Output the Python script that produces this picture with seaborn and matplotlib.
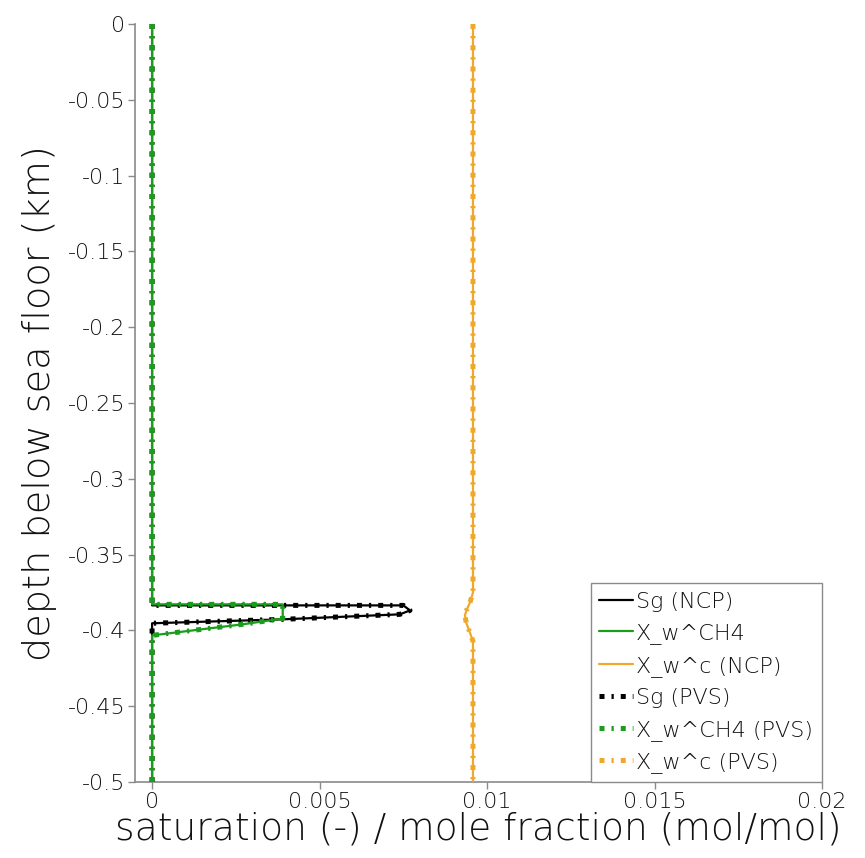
import matplotlib
matplotlib.use("Agg")
import matplotlib.pyplot as plt
import seaborn as sns
import pandas as pd

# Depth profiles (km below sea floor, negative downward) and values
sg_depth = [0.0, -0.3835, -0.3835, -0.3868, -0.3894, -0.3927, -0.3953, -0.5]
sg_value = [0.0, 0.0, 0.0075, 0.0077, 0.0074, 0.0039, 0.0, 0.0]

ch4_depth = [0.0, -0.3828, -0.3828, -0.3922, -0.3960, -0.3995, -0.4033, -0.5]
ch4_value = [0.0, 0.0, 0.0039, 0.0039, 0.0027, 0.0014, 0.0, 0.0]

xc_depth = [0.0, -0.375, -0.381, -0.386, -0.390, -0.395, -0.401, -0.407, -0.5]
xc_value = [0.00958, 0.00958, 0.00950, 0.00940, 0.00934, 0.00938, 0.00948, 0.00958, 0.00958]

series_names = ["Sg (NCP)", "X_w^CH4", "X_w^c (NCP)",
                "Sg (PVS)", "X_w^CH4 (PVS)", "X_w^c (PVS)"]

x_ticks = [0, 0.005, 0.01, 0.015, 0.02]
x_tick_labels = ["0", "0.005", "0.01", "0.015", "0.02"]
y_ticks = [0, -0.05, -0.1, -0.15, -0.2, -0.25, -0.3, -0.35, -0.4, -0.45, -0.5]
y_tick_labels = ["0", "-0.05", "-0.1", "-0.15", "-0.2", "-0.25", "-0.3",
                 "-0.35", "-0.4", "-0.45", "-0.5"]

BLACK = "#000000"
GREEN = "#1c9c1c"
ORANGE = "#f0a82c"
SPINE = "#8a8a8a"
TEXT = "#111111"

sns.set_theme(style="white")
plt.rcParams["font.family"] = ["DejaVu Sans"]

fig = plt.figure(figsize=(8.65, 8.58), dpi=100)
ax = fig.add_axes([135 / 865, 1 - 782 / 858, (822 - 135) / 865, (782 - 24) / 858])

profiles = [
    (sg_value, sg_depth, BLACK, 2),
    (ch4_value, ch4_depth, GREEN, 4),
    (xc_value, xc_depth, ORANGE, 4),
]

# Solid NCP curves
for (xv, yv, col, z), name in zip(profiles, series_names[:3]):
    df = pd.DataFrame({"x": xv, "y": yv})
    sns.lineplot(data=df, x="x", y="y", sort=False, estimator=None, ax=ax,
                 color=col, lw=1.6, label=name, zorder=z)

# Dotted PVS curves on top
pvs_dash = (0, (1.0, 1.4, 0.45, 1.4))
for (xv, yv, col, z), name in zip(profiles, series_names[3:]):
    df = pd.DataFrame({"x": xv, "y": yv})
    sns.lineplot(data=df, x="x", y="y", sort=False, estimator=None, ax=ax,
                 color=col, lw=3.6, linestyle=pvs_dash, label=name,
                 dash_capstyle="butt", zorder=z + 1)

ax.set_xlim(-0.00051, 0.02)
ax.set_ylim(-0.5, 0.0)
ax.set_xticks(x_ticks)
ax.set_xticklabels(x_tick_labels)
ax.set_yticks(y_ticks)
ax.set_yticklabels(y_tick_labels)

for side in ["top", "right"]:
    ax.spines[side].set_visible(False)
for side in ["left", "bottom"]:
    ax.spines[side].set_color(SPINE)
    ax.spines[side].set_linewidth(1.2)

ax.tick_params(axis="both", which="major", direction="out", length=5,
               width=1.0, color=SPINE, labelsize=16, labelcolor=TEXT,
               left=True, bottom=True, pad=2)
for lbl in ax.get_xticklabels() + ax.get_yticklabels():
    lbl.set_fontweight("light")

ax.set_xlabel("saturation (-) / mole fraction (mol/mol)", fontsize=27,
              color=TEXT, labelpad=0, fontweight="light")
ax.set_ylabel("depth below sea floor (km)", fontsize=27.5, color=TEXT,
              labelpad=8, fontweight="light")

leg = ax.legend(loc="lower right", bbox_to_anchor=(1.0, 0.0),
                borderaxespad=0.0, fontsize=16, frameon=True, fancybox=False,
                handlelength=1.5, handletextpad=0.15, labelspacing=0.52,
                borderpad=0.4)
leg.get_frame().set_edgecolor(SPINE)
leg.get_frame().set_linewidth(1.0)
leg.get_frame().set_alpha(1.0)
for t in leg.get_texts():
    t.set_color(TEXT)
    t.set_fontweight("light")

fig.savefig("out.png", dpi=100)
